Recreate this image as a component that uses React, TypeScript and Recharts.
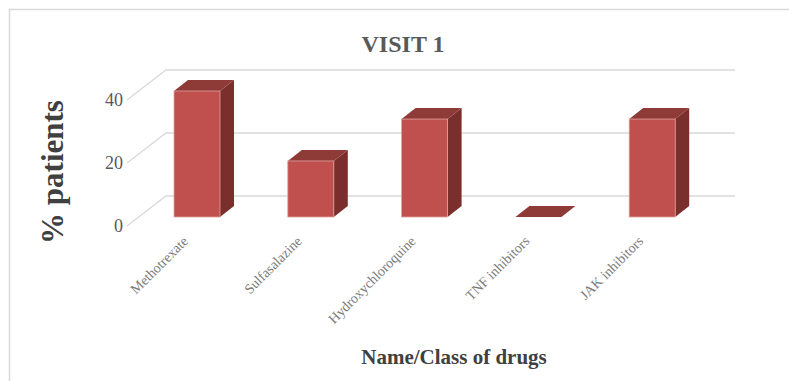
import { BarChart, Bar, XAxis, YAxis, CartesianGrid } from 'recharts';

const drugs = ['Methotrexate', 'Sulfasalazine', 'Hydroxychloroquine', 'TNF inhibitors', 'JAK inhibitors'];
const patientsPct = [40, 17.8, 31.1, 0, 31.1];
const yTicks = [0, 20, 40];

const data = drugs.map((name, i) => ({ name, value: patientsPct[i] }));

// oblique 3D offsets
const DX = 14;
const DY = -11;
const FONT = '"Liberation Serif", "Times New Roman", serif';

const Bar3D = (props: any) => {
    const { x, y, width, height } = props;
    const h = Math.max(0, height || 0);
    return (
        <g>
            <path
                d={`M${x + width},${y} L${x + width + DX},${y + DY} L${x + width + DX},${y + h + DY} L${x + width},${y + h} Z`}
                fill="#7b2f2d"
            />
            <path
                d={`M${x},${y} L${x + DX},${y + DY} L${x + width + DX},${y + DY} L${x + width},${y} Z`}
                fill="#8e3a37"
            />
            {h > 0 && (
                <rect x={x} y={y} width={width} height={h} fill="#c0504d" stroke="#e0a09e" strokeWidth={0.8} />
            )}
        </g>
    );
};

const gridLine = (props: any) => {
    const { x1, x2, y1, index } = props;
    return (
        <path
            key={`g-${index}`}
            d={`M${x1 - 13},${y1 + 9} L${x1 + 26},${y1 - 21} L${x2 + 26},${y1 - 21}`}
            fill="none"
            stroke="#d9d9d9"
            strokeWidth={1.3}
        />
    );
};

const renderYTick = (props: any) => {
    const { y, payload, index } = props;
    return (
        <text key={`y-${index}`} x={123} y={y + 9} textAnchor="end" dominantBaseline="central" fill="#595959" fontSize={18} fontFamily={FONT}>
            {payload.value}
        </text>
    );
};

const renderXTick = (props: any) => {
    const { x, payload, index } = props;
    const tx = x - 8;
    const ty = 242;
    return (
        <text
            key={`x-${index}`}
            x={tx}
            y={ty}
            textAnchor="end"
            transform={`rotate(-45, ${tx}, ${ty})`}
            fill="#7a7a7a"
            fontSize={14}
            fontFamily={FONT}
        >
            {payload.value}
        </text>
    );
};

export default function App() {
    return (
        <div style={{ position: 'fixed', left: 0, top: 0, width: 789, height: 381, background: '#fff' }}>
            <BarChart
                width={789}
                height={381}
                data={data}
                margin={{ top: 91, right: 80, left: 100, bottom: 124 }}
            >
                <CartesianGrid vertical={false} horizontal={gridLine} />
                <XAxis
                    dataKey="name"
                    height={40}
                    axisLine={false}
                    tickLine={false}
                    interval={0}
                    tick={renderXTick}
                />
                <YAxis
                    width={40}
                    domain={[0, 40]}
                    ticks={yTicks}
                    axisLine={false}
                    tickLine={false}
                    interval={0}
                    tick={renderYTick}
                />
                <Bar dataKey="value" barSize={46} shape={<Bar3D />} isAnimationActive={false} />
            </BarChart>
            <svg width={789} height={381} style={{ position: 'absolute', left: 0, top: 0, pointerEvents: 'none' }}>
                <path d="M9.5,381 L9.5,9.5 L789,9.5" fill="none" stroke="#d9d9d9" strokeWidth={1.5} />
                <text x={403} y={52} textAnchor="middle" fill="#595959" fontSize={24} fontWeight="bold" fontFamily={FONT}>
                    VISIT 1
                </text>
                <text
                    x={63}
                    y={172}
                    textAnchor="middle"
                    transform="rotate(-90, 63, 172)"
                    fill="#404040"
                    fontSize={31}
                    fontWeight="bold"
                    fontFamily={FONT}
                >
                    % patients
                </text>
                <text x={454} y={364} textAnchor="middle" fill="#404040" fontSize={21} fontWeight="bold" fontFamily={FONT}>
                    Name/Class of drugs
                </text>
            </svg>
        </div>
    );
}
